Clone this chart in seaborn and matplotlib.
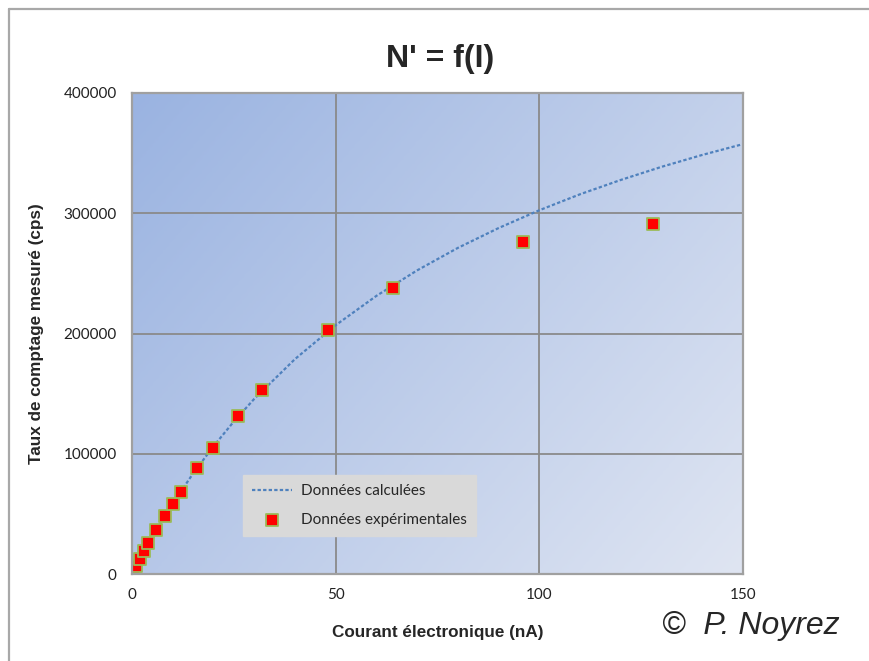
import numpy as np
import pandas as pd
import matplotlib
matplotlib.use("Agg")
import matplotlib.pyplot as plt
import seaborn as sns
from matplotlib.lines import Line2D
from matplotlib.colors import LinearSegmentedColormap

# ---- data ----
exp_current = [0.5, 1, 2, 3, 4, 6, 8, 10, 12, 16, 20, 26, 32, 48, 64, 96, 128]
exp_rate = [1500, 6500, 12500, 19000, 25500, 37000, 48000, 58000, 68500,
            88000, 105000, 131000, 153000, 203000, 238000, 276000, 291000]

calc_current = [0, 2, 5, 10, 15, 20, 25, 30, 40, 50, 60, 70, 80, 90,
                100, 110, 120, 130, 140, 150]
calc_rate = [0, 12800, 30900, 58600, 83600, 106200, 126800, 145600, 178700,
             206900, 231300, 252500, 271200, 287700, 302500, 315800, 327700,
             338600, 348500, 357500]

x_ticks = [0, 50, 100, 150]
y_ticks = [0, 100000, 200000, 300000, 400000]

title = "N' = f(I)"
x_label = "Courant électronique (nA)"
y_label = "Taux de comptage mesuré (cps)"
legend_calc = "Données calculées"
legend_exp = "Données expérimentales"
credit = "©  P. Noyrez"

# ---- figure ----
sns.set_theme(style="white")
plt.rcParams["font.family"] = ["Lato", "DejaVu Sans"]

W, H = 870, 661
fig = plt.figure(figsize=(W / 100, H / 100), dpi=100)
ax = fig.add_axes([132 / W, 1 - 574 / H, (743 - 132) / W, (574 - 93) / H])

# gradient background
cmap = LinearSegmentedColormap.from_list("bg", ["#9ab3e1", "#dfe5f2"])
gx, gy = np.meshgrid(np.linspace(0, 1, 200), np.linspace(0, 1, 200))
grad = (gx * 0.6 + gy * 0.4)
ax.imshow(grad, cmap=cmap, extent=[0, 1, 0, 1], transform=ax.transAxes,
          aspect="auto", origin="upper", zorder=0, interpolation="bilinear")

df_calc = pd.DataFrame({"I": calc_current, "N": calc_rate})
df_exp = pd.DataFrame({"I": exp_current, "N": exp_rate})

sns.lineplot(data=df_calc, x="I", y="N", ax=ax, color="#4f81bd",
             linewidth=1.6, linestyle=(0, (1.5, 1.0)), label=legend_calc,
             zorder=3)
sns.scatterplot(data=df_exp, x="I", y="N", ax=ax, marker="s", s=75,
                color="#ff0000", edgecolor="#9bbb59", linewidth=1.3,
                label=legend_exp, zorder=4)

ax.set_xlim(0, 150)
ax.set_ylim(0, 400000)
ax.set_xticks(x_ticks)
ax.set_yticks(y_ticks)
ax.set_xticklabels([str(t) for t in x_ticks])
ax.set_yticklabels([str(t) for t in y_ticks])
ax.tick_params(axis="both", length=0, labelsize=11, colors="#222222")
ax.tick_params(axis="x", pad=10)
ax.tick_params(axis="y", pad=11)

ax.grid(True, color="#8a8a8a", linewidth=1.3, zorder=1)
ax.set_axisbelow(False)
for sp in ax.spines.values():
    sp.set_visible(True)
    sp.set_color("#a0a0a0")
    sp.set_linewidth(1.6)
    sp.set_zorder(5)

ax.set_xlabel(x_label, fontsize=12.3, fontweight="bold",
              family=["Liberation Sans", "DejaVu Sans"], labelpad=17)
ax.set_ylabel(y_label, fontsize=12.3, fontweight="bold",
              family=["Liberation Sans", "DejaVu Sans"], labelpad=14)

fig.text(440 / W, 1 - 59 / H, title, ha="center", va="center",
         fontsize=23, fontweight="bold",
         family=["Liberation Sans", "DejaVu Sans"])

leg = ax.legend(loc="upper left", bbox_to_anchor=((243 - 132) / 611, (574 - 475) / 481),
                frameon=True, fontsize=11, handlelength=2.6,
                borderpad=0.6, labelspacing=0.95, handletextpad=0.6,
                borderaxespad=0.0, fancybox=False)
leg.get_frame().set_facecolor("#d9d9d9")
leg.get_frame().set_edgecolor("#d9d9d9")
leg.get_frame().set_alpha(1.0)
leg.set_zorder(6)

fig.text(751 / W, 1 - 626 / H, credit, ha="center", va="center",
         fontsize=23, style="italic",
         family=["Liberation Sans", "DejaVu Sans"])

# outer chart frame
fig.add_artist(Line2D([9.5 / W, 9.5 / W], [0, 1 - 8.5 / H],
                      transform=fig.transFigure, color="#a8a8a8", linewidth=1.6))
fig.add_artist(Line2D([9.5 / W, 1.0], [1 - 8.5 / H, 1 - 8.5 / H],
                      transform=fig.transFigure, color="#a8a8a8", linewidth=1.6))

fig.savefig("out.png", dpi=100, facecolor="white")
